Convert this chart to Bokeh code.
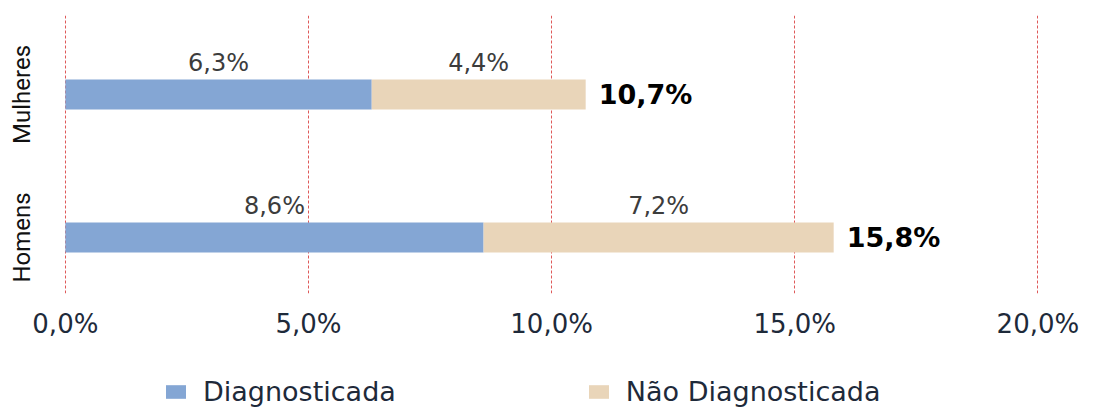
from bokeh.plotting import figure
from bokeh.layouts import column
from bokeh.models import ColumnDataSource, FixedTicker, Range1d, Legend, LegendItem, LabelSet
from bokeh.core.properties import value
from bokeh.embed import file_html
from bokeh.resources import INLINE

categories = ["Mulheres", "Homens"]
diagnosticada = [6.3, 8.6]
nao_diagnosticada = [4.4, 7.2]
series_names = ["Diagnosticada", "Não Diagnosticada"]
x_ticks = [0, 5, 10, 15, 20]
x_tick_labels = ["0,0%", "5,0%", "10,0%", "15,0%", "20,0%"]

colors = ["#84a6d4", "#e9d5b9"]

def fmt(v):
    return f"{v:.1f}".replace(".", ",") + "%"

n = len(categories)
ypos = [n - i - 0.5 for i in range(n)]
totals = [a + b for a, b in zip(diagnosticada, nao_diagnosticada)]
bar_h = 0.21

src = ColumnDataSource(dict(
    y=ypos,
    d=diagnosticada,
    nd=nao_diagnosticada,
    nd_left=diagnosticada,
    nd_right=totals,
    total=totals,
    d_mid=[v / 2 for v in diagnosticada],
    nd_mid=[a + b / 2 for a, b in zip(diagnosticada, nao_diagnosticada)],
    top=[y + bar_h / 2 for y in ypos],
    d_lab=[fmt(v) for v in diagnosticada],
    nd_lab=[fmt(v) for v in nao_diagnosticada],
    t_lab=[fmt(v) for v in totals],
))

p = figure(width=1093, height=350, output_backend="svg", toolbar_location=None,
           x_range=Range1d(-0.1, 20.3), y_range=Range1d(0.108, 2.052),
           min_border_left=60, min_border_right=41, min_border_top=15, min_border_bottom=57)
p.outline_line_color = None

r1 = p.hbar(y="y", left=0, right="d", height=bar_h, source=src, fill_color=colors[0], line_color=None)
r2 = p.hbar(y="y", left="nd_left", right="nd_right", height=bar_h, source=src, fill_color=colors[1], line_color=None)

lab_font = value("DejaVu Sans")
p.add_layout(LabelSet(x="d_mid", y="top", text="d_lab", source=src, text_align="center",
                      text_baseline="bottom", y_offset=2, text_font=lab_font,
                      text_font_size="24px", text_color="#3c3c3c"))
p.add_layout(LabelSet(x="nd_mid", y="top", text="nd_lab", source=src, text_align="center",
                      text_baseline="bottom", y_offset=2, text_font=lab_font,
                      text_font_size="24px", text_color="#3c3c3c"))
p.add_layout(LabelSet(x="total", y="y", text="t_lab", source=src, text_align="left",
                      text_baseline="middle", x_offset=13, text_font=lab_font,
                      text_font_style="bold", text_font_size="27px", text_color="#000000"))

p.xaxis.ticker = FixedTicker(ticks=x_ticks)
p.xaxis.major_label_overrides = {t: l for t, l in zip(x_ticks, x_tick_labels)}
p.xaxis.axis_line_color = None
p.xaxis.major_tick_line_color = None
p.xaxis.minor_tick_line_color = None
p.xaxis.major_label_standoff = 9
p.xaxis.major_label_text_font = "DejaVu Sans"
p.xaxis.major_label_text_font_size = "26px"
p.xaxis.major_label_text_color = "#1e2a3a"

p.yaxis.ticker = FixedTicker(ticks=ypos)
p.yaxis.major_label_overrides = {y: c for y, c in zip(ypos, categories)}
p.yaxis.major_label_orientation = "vertical"
p.yaxis.axis_line_color = None
p.yaxis.major_tick_line_color = None
p.yaxis.minor_tick_line_color = None
p.yaxis.major_label_standoff = 18
p.yaxis.major_label_text_font = "Roboto"
p.yaxis.major_label_text_font_size = "24px"
p.yaxis.major_label_text_color = "#111111"

p.xgrid.grid_line_color = "#d83c3c"
p.xgrid.grid_line_dash = "3 2"
p.xgrid.grid_line_width = 1
p.xgrid.grid_line_alpha = 0.85
p.ygrid.grid_line_color = None

# legend strip (legend swatches use off-screen placeholder glyphs)
lg = figure(width=1093, height=58, output_backend="svg", toolbar_location=None,
            x_range=Range1d(0, 1), y_range=Range1d(0, 1),
            x_axis_type=None, y_axis_type=None, min_border=0)
lg.outline_line_color = None
ph = ColumnDataSource(dict(y=[-10], left=[0], right=[0]))
l1 = lg.hbar(y="y", left="left", right="right", height=0.1, source=ph,
             fill_color=colors[0], line_color=None)
l2 = lg.hbar(y="y", left="left", right="right", height=0.1, source=ph,
             fill_color=colors[1], line_color=None)
legend = Legend(items=[LegendItem(label=series_names[0], renderers=[l1]),
                       LegendItem(label=series_names[1], renderers=[l2])],
                orientation="horizontal", location=(103, 1),
                glyph_width=25, glyph_height=17, label_text_font="DejaVu Sans",
                label_text_font_size="27px", label_text_color="#1e2a3a",
                spacing=190, label_standoff=15, padding=0, margin=0,
                border_line_color=None, background_fill_alpha=0)
lg.add_layout(legend)

open("out.html", "w").write(file_html(column(p, lg, spacing=0), INLINE))
